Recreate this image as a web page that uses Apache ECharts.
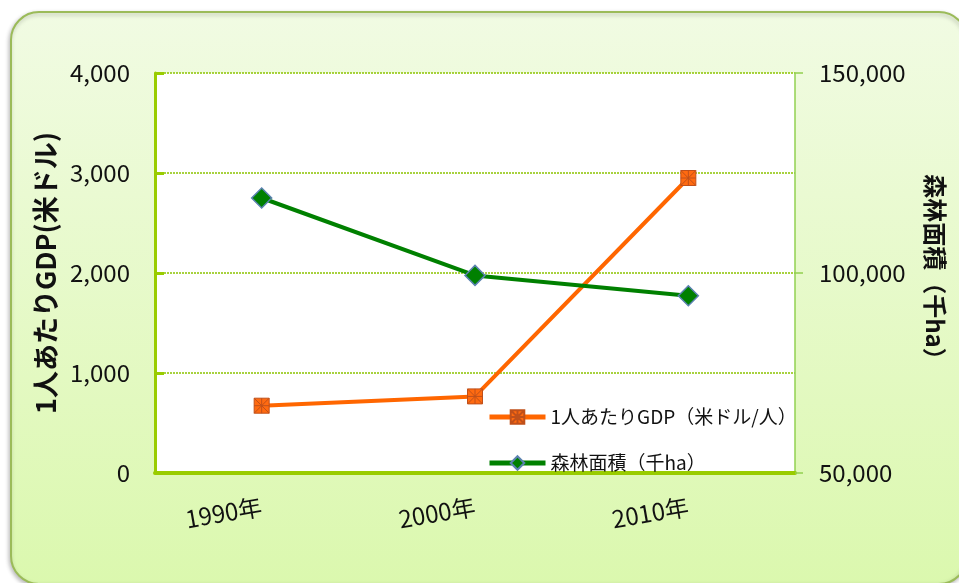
<!DOCTYPE html>
<html>
<head>
<meta charset="utf-8">
<script src="https://cdn.jsdelivr.net/npm/echarts@6/dist/echarts.min.js"></script>
<style>
html,body{margin:0;padding:0;background:#fff;}
#c{width:959px;height:583px;}
</style>
</head>
<body>
<div id="c"></div>
<script>
var categories = ['1990年', '2000年', '2010年'];
var gdpName = '1人あたりGDP（米ドル/人）';
var forestName = '森林面積（千ha）';
var gdpValues = [673, 766, 2950];
var forestValues = [118750, 99400, 94300];
var leftAxisName = '1人あたりGDP(米ドル)';
var rightAxisName = '森林面積（千ha）';

var FONT = '"Noto Sans CJK JP", "Noto Sans", sans-serif';
var chart = echarts.init(document.getElementById('c'), null, {renderer: 'canvas'});
var fmt = function (v) { return v.toLocaleString('en-US'); };

chart.setOption({
  animation: false,
  backgroundColor: '#ffffff',
  textStyle: {fontFamily: FONT},
  graphic: [{
    type: 'rect',
    z: -10,
    shape: {x: 11, y: 12, width: 956, height: 572, r: 28},
    style: {
      fill: new echarts.graphic.LinearGradient(0, 0, 0, 1, [
        {offset: 0, color: '#f1fbe3'},
        {offset: 1, color: '#dbf8ae'}
      ]),
      stroke: '#9bbb59',
      lineWidth: 2,
      shadowBlur: 4,
      shadowOffsetX: -1,
      shadowOffsetY: 2,
      shadowColor: 'rgba(0,0,0,0.25)'
    }
  }],
  grid: {left: 155, right: 164, top: 73, bottom: 110, show: true, backgroundColor: '#ffffff', borderWidth: 0},
  legend: {
    orient: 'vertical',
    left: 482,
    top: 400,
    itemWidth: 56,
    itemHeight: 17,
    itemGap: 22,
    lineStyle: {width: 5},
    textStyle: {fontFamily: FONT, fontSize: 19, color: '#111', lineHeight: 24},
    data: [gdpName, forestName]
  },
  xAxis: {
    type: 'category',
    data: categories,
    boundaryGap: true,
    axisLine: {lineStyle: {color: '#99cc00', width: 4}},
    axisTick: {inside: true, length: 7, lineStyle: {color: '#99cc00', width: 3}},
    axisLabel: {rotate: 10, margin: 33, fontSize: 24, color: '#111', fontFamily: FONT},
    splitLine: {show: false}
  },
  yAxis: [{
    type: 'value',
    min: 0, max: 4000, interval: 1000,
    position: 'left',
    name: leftAxisName,
    nameLocation: 'middle',
    nameRotate: 90,
    nameGap: 96,
    nameTextStyle: {fontSize: 27, fontWeight: 'bold', color: '#111', fontFamily: FONT},
    axisLine: {show: true, lineStyle: {color: '#99cc00', width: 3}},
    axisTick: {show: true, inside: true, length: 9, lineStyle: {color: '#99cc00', width: 3}},
    axisLabel: {formatter: fmt, margin: 25, fontSize: 24, color: '#111', fontFamily: FONT},
    splitLine: {show: true, lineStyle: {color: '#8cc400', width: 1.5, type: [2, 1]}}
  }, {
    type: 'value',
    min: 50000, max: 150000, interval: 50000,
    position: 'right',
    name: rightAxisName,
    nameLocation: 'middle',
    nameRotate: -90,
    nameGap: 128,
    nameTextStyle: {fontSize: 24, fontWeight: 'bold', color: '#111', fontFamily: FONT},
    axisLine: {show: true, lineStyle: {color: '#92d050', width: 1.5}},
    axisTick: {show: true, length: 8, lineStyle: {color: '#92d050', width: 1.5}},
    axisLabel: {formatter: fmt, margin: 24, fontSize: 24, color: '#111', fontFamily: FONT},
    splitLine: {show: false}
  }],
  series: [{
    name: gdpName,
    type: 'line',
    yAxisIndex: 0,
    data: gdpValues,
    symbol: 'path://M0,0 L10,0 L10,10 L0,10 Z M0,0 L10,10 M10,0 L0,10 M5,0 L5,10 M0,5 L10,5',
    symbolSize: 15,
    lineStyle: {color: '#ff6600', width: 4},
    itemStyle: {color: '#ff6a10', borderColor: '#c0501a', borderWidth: 1}
  }, {
    name: forestName,
    type: 'line',
    yAxisIndex: 1,
    data: forestValues,
    symbol: 'diamond',
    symbolSize: 20,
    lineStyle: {color: '#008000', width: 4},
    itemStyle: {color: '#008000', borderColor: '#5b82b0', borderWidth: 1.5}
  }]
});
</script>
</body>
</html>
